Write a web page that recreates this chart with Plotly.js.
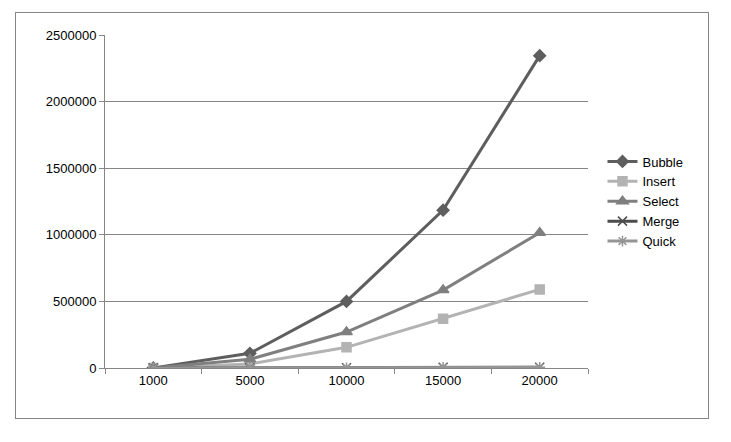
<!DOCTYPE html>
<html><head><meta charset="utf-8">
<script src="https://cdn.plot.ly/plotly-3.0.1.min.js"></script>
<style>body{margin:0;background:#fff}#frame{position:absolute;left:15px;top:12px;width:694px;height:407px;border:1px solid #868686;box-sizing:border-box;overflow:hidden}#chart{width:692px;height:405px}</style>
</head><body><div id="frame"><div id="chart"></div></div>
<script>
var sizes = ["1000", "5000", "10000", "15000", "20000"];
var bubble = [1000, 110000, 500000, 1185000, 2345000];
var insert = [500, 30000, 155000, 370000, 590000];
var select = [800, 65000, 270000, 585000, 1015000];
var merge = [200, 800, 2000, 5000, 6000];
var quick = [100, 500, 1500, 4000, 5000];

function series(name, y, color, symbol, size) {
    return {
        x: sizes, y: y, name: name, type: "scatter", mode: "lines+markers",
        line: { color: color, width: 3 },
        marker: { symbol: symbol, size: size, color: color, line: { color: color, width: 1.5 } }
    };
}

var data = [
    series("Bubble", bubble, "#5e5e5e", "diamond", 9),
    series("Insert", insert, "#b3b3b3", "square", 9),
    series("Select", select, "#7f7f7f", "triangle-up", 10),
    series("Merge", merge, "#4d4d4d", "x-thin", 9),
    series("Quick", quick, "#959595", "asterisk", 9)
];

var layout = {
    width: 692, height: 405,
    margin: { l: 89, r: 120, t: 22, b: 50 },
    paper_bgcolor: "#fff", plot_bgcolor: "#fff",
    font: { family: "Liberation Sans, Arial", size: 13, color: "#000" },
    showlegend: true,
    legend: { x: 1.03, y: 0.5, yanchor: "middle", font: { size: 13 }, tracegroupgap: 10, itemwidth: 30 },
    xaxis: { type: "category", range: [-0.5, 4.5], showgrid: false, showline: true, linecolor: "#868686",
        ticks: "outside", ticklen: 5, tickcolor: "#868686", tickson: "boundaries" },
    yaxis: { range: [0, 2500000], dtick: 500000, tickformat: "d", showgrid: true,
        gridcolor: "#868686", showline: true, linecolor: "#868686", zeroline: false,
        ticks: "outside", ticklen: 5, tickcolor: "#868686" }
};

Plotly.newPlot("chart", data, layout, { displayModeBar: false });
</script></body></html>
